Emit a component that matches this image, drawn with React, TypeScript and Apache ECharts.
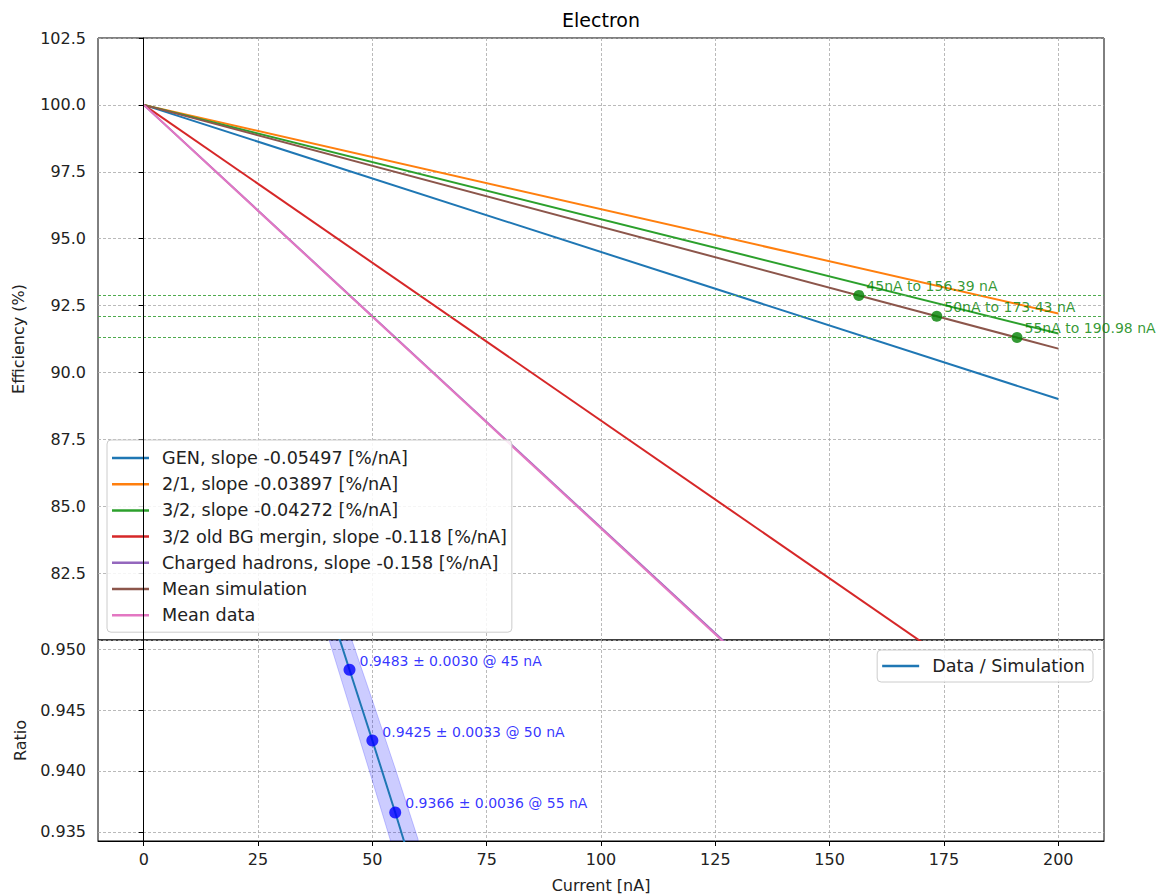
import React, { useEffect, useRef } from "react";
import * as echarts from "echarts";

const FONT = "DejaVu Sans";

// Top panel: efficiency lines, each from (0, 100) to (200, end)
const lineNames = [
  "GEN, slope -0.05497 [%/nA]",
  "2/1, slope -0.03897 [%/nA]",
  "3/2, slope -0.04272 [%/nA]",
  "3/2 old BG mergin, slope -0.118 [%/nA]",
  "Charged hadrons, slope -0.158 [%/nA]",
  "Mean simulation",
  "Mean data",
];
const lineColors = ["#1f77b4", "#ff7f0e", "#2ca02c", "#d62728", "#9467bd", "#8c564b", "#e377c2"];
const lineStartX = [0, 0, 0, 0, 0, 0, 0];
const lineStartY = [100, 100, 100, 100, 100, 100, 100];
const lineEndX = [200, 200, 200, 200, 200, 200, 200];
const lineEndY = [89.006, 92.206, 91.456, 76.4, 68.4, 90.89, 68.34];

// Equivalent-current crossing points
const crossCurrents = [45, 50, 55];
const crossX = [156.39, 173.43, 190.98];
const crossY = [92.88, 92.1, 91.31];

// Bottom panel: ratio data / simulation
const ratioX = [40, 45, 50, 55, 60];
const ratioY = [0.9541, 0.9483, 0.9425, 0.9366, 0.9305];
const ratioErr = [0.0027, 0.003, 0.0033, 0.0036, 0.0039];
const ptX = [45, 50, 55];
const ptY = [0.9483, 0.9425, 0.9366];
const ptErr = [0.003, 0.0033, 0.0036];

const xTicks = [0, 25, 50, 75, 100, 125, 150, 175, 200];
const ratioTicks = [0.935, 0.94, 0.945, 0.95];

const gridLine = { show: true, lineStyle: { color: "#a8a8a8", width: 0.8, type: [3, 2] as any } };
const labelStyle = { color: "#222", fontFamily: FONT, fontSize: 16 };
const legendText = { color: "#222", fontFamily: FONT, fontSize: 17.6, lineHeight: 17, padding: [0, 0, 0, 8] };
const hLineStyle = { color: "#4fab4f", width: 1.1, type: [3, 2] as any, opacity: 1 };

export default function App() {
  const ref = useRef<HTMLDivElement>(null);
  useEffect(() => {
    const chart = echarts.init(ref.current!, null, { renderer: "svg" });
    const lineSeries: any[] = lineNames.map((name, i) => ({
      name,
      type: "line",
      xAxisIndex: 0,
      yAxisIndex: 0,
      symbol: "none",
      color: lineColors[i],
      lineStyle: { width: 2, color: lineColors[i] },
      data: [
        [lineStartX[i], lineStartY[i]],
        [lineEndX[i], lineEndY[i]],
      ],
      z: 3 + i * 0.01,
      ...(i === 0
        ? {
            markLine: {
              silent: true,
              symbol: "none",
              label: { show: false },
              lineStyle: { color: "#000", width: 1, type: "solid" },
              data: [{ xAxis: 0 }],
            },
          }
        : {}),
    }));

    // one invisible carrier series per horizontal guide line
    const hLineSeries: any[] = crossY.map((y, i) => ({
      name: `guide-${i}`,
      type: "line",
      xAxisIndex: 0,
      yAxisIndex: 0,
      symbol: "none",
      silent: true,
      color: hLineStyle.color,
      lineStyle: { opacity: 0 },
      data: [],
      z: 2,
      markLine: {
        silent: true,
        symbol: "none",
        label: { show: false },
        lineStyle: hLineStyle,
        emphasis: { disabled: true },
        data: [{ yAxis: y }],
      },
    }));

    const option: any = {
      animation: false,
      textStyle: { fontFamily: FONT },
      graphic: [
        {
          type: "text",
          x: 601,
          y: 20,
          style: {
            text: "Electron",
            fontFamily: FONT,
            fontSize: 19,
            fill: "#000",
            textAlign: "center",
            textVerticalAlign: "middle",
          },
        },
      ],
      grid: [
        { left: 98, top: 38, width: 1006, height: 602, show: true, borderColor: "#000", borderWidth: 1, backgroundColor: "transparent" },
        { left: 98, top: 640, width: 1006, height: 201, show: true, borderColor: "#000", borderWidth: 1, backgroundColor: "transparent" },
      ],
      legend: [
        {
          data: lineNames,
          orient: "vertical",
          left: 107,
          top: 440,
          padding: [9, 5, 8, 5],
          icon: "rect",
          itemWidth: 37,
          itemHeight: 2.5,
          itemGap: 8.2,
          backgroundColor: "rgba(255,255,255,0.85)",
          borderColor: "#cccccc",
          borderWidth: 1,
          borderRadius: 4,
          textStyle: legendText,
          selectedMode: false,
        },
        {
          data: ["Data / Simulation"],
          orient: "vertical",
          right: 63,
          top: 650,
          padding: [7, 8, 7, 5],
          icon: "rect",
          itemWidth: 37,
          itemHeight: 2.5,
          backgroundColor: "rgba(255,255,255,0.85)",
          borderColor: "#cccccc",
          borderWidth: 1,
          borderRadius: 4,
          textStyle: legendText,
          selectedMode: false,
        },
      ],
      xAxis: [
        {
          type: "value",
          gridIndex: 0,
          min: -10,
          max: 210,
          axisLine: { show: false },
          axisTick: { show: false, customValues: xTicks },
          axisLabel: { show: false, customValues: xTicks },
          splitLine: gridLine,
        },
        {
          type: "value",
          gridIndex: 1,
          min: -10,
          max: 210,
          name: "Current [nA]",
          nameLocation: "middle",
          nameGap: 36,
          nameTextStyle: labelStyle,
          axisLine: { show: true, lineStyle: { color: "#000", width: 1 } },
          axisTick: { show: true, length: 5, customValues: xTicks, lineStyle: { color: "#000" } },
          axisLabel: { ...labelStyle, margin: 10, customValues: xTicks, formatter: (v: number) => String(v) },
          splitLine: gridLine,
        },
      ],
      yAxis: [
        {
          type: "value",
          gridIndex: 0,
          min: 80,
          max: 102.5,
          interval: 2.5,
          name: "Efficiency (%)",
          nameLocation: "middle",
          nameGap: 72,
          nameRotate: 90,
          nameTextStyle: labelStyle,
          axisLine: { show: true, lineStyle: { color: "#000", width: 1 } },
          axisTick: { show: true, length: 5, lineStyle: { color: "#000" } },
          axisLabel: { ...labelStyle, margin: 12, showMinLabel: false, formatter: (v: number) => v.toFixed(1) },
          splitLine: gridLine,
        },
        {
          type: "value",
          gridIndex: 1,
          min: 0.93426,
          max: 0.95074,
          name: "Ratio",
          nameLocation: "middle",
          nameGap: 70,
          nameRotate: 90,
          nameTextStyle: labelStyle,
          axisLine: { show: true, lineStyle: { color: "#000", width: 1 } },
          axisTick: { show: true, length: 5, customValues: ratioTicks, lineStyle: { color: "#000" } },
          axisLabel: { ...labelStyle, margin: 12, customValues: ratioTicks, formatter: (v: number) => v.toFixed(3) },
          splitLine: gridLine,
        },
      ],
      series: [
        ...hLineSeries,
        ...lineSeries,
        {
          name: "crossings",
          type: "scatter",
          xAxisIndex: 0,
          yAxisIndex: 0,
          symbolSize: 11,
          itemStyle: { color: "#008000" },
          z: 5,
          label: {
            show: true,
            position: "right",
            distance: 2,
            offset: [0, -9],
            formatter: "{b}",
            color: "#008000",
            fontFamily: FONT,
            fontSize: 14,
          },
          data: crossX.map((x, i) => ({
            name: `${crossCurrents[i]}nA to ${x.toFixed(2)} nA`,
            value: [x, crossY[i]],
          })),
        },
        {
          name: "band",
          type: "custom",
          xAxisIndex: 1,
          yAxisIndex: 1,
          silent: true,
          z: 2,
          data: ratioX.map((x, i) => [x, ratioY[i] - ratioErr[i], ratioY[i] + ratioErr[i]]),
          renderItem: (params: any, api: any) => {
            if (params.dataIndex !== 0) return null;
            const upper = ratioX.map((x, i) => api.coord([x, ratioY[i] + ratioErr[i]]));
            const lower = ratioX.map((x, i) => api.coord([x, ratioY[i] - ratioErr[i]])).reverse();
            const cs = params.coordSys;
            return {
              type: "polygon",
              shape: { points: [...upper, ...lower] },
              style: { fill: "rgba(0,0,255,0.2)", stroke: "rgba(0,0,255,0.2)", lineWidth: 1 },
              clipPath: { type: "rect", shape: { x: cs.x, y: cs.y, width: cs.width, height: cs.height } },
            };
          },
        },
        {
          name: "Data / Simulation",
          type: "line",
          xAxisIndex: 1,
          yAxisIndex: 1,
          symbol: "none",
          color: "#1f77b4",
          lineStyle: { width: 2, color: "#1f77b4" },
          data: ratioX.map((x, i) => [x, ratioY[i]]),
          z: 4,
          markLine: {
            silent: true,
            symbol: "none",
            label: { show: false },
            lineStyle: { color: "#000", width: 1, type: "solid" },
            data: [{ xAxis: 0 }],
          },
        },
        {
          name: "ratio-points",
          type: "scatter",
          xAxisIndex: 1,
          yAxisIndex: 1,
          symbolSize: 12,
          itemStyle: { color: "#0000ff" },
          z: 5,
          label: {
            show: true,
            position: "right",
            distance: 4,
            offset: [0, -9],
            formatter: "{b}",
            color: "#0000ff",
            fontFamily: FONT,
            fontSize: 14,
          },
          data: ptX.map((x, i) => ({
            name: `${ptY[i].toFixed(4)} ± ${ptErr[i].toFixed(4)} @ ${x} nA`,
            value: [x, ptY[i]],
          })),
        },
      ],
    };
    chart.setOption(option);
    return () => chart.dispose();
  }, []);
  return (
    <div
      ref={ref}
      style={{ position: "fixed", left: 0, top: 0, width: 1156, height: 896, background: "#fff" }}
    />
  );
}
